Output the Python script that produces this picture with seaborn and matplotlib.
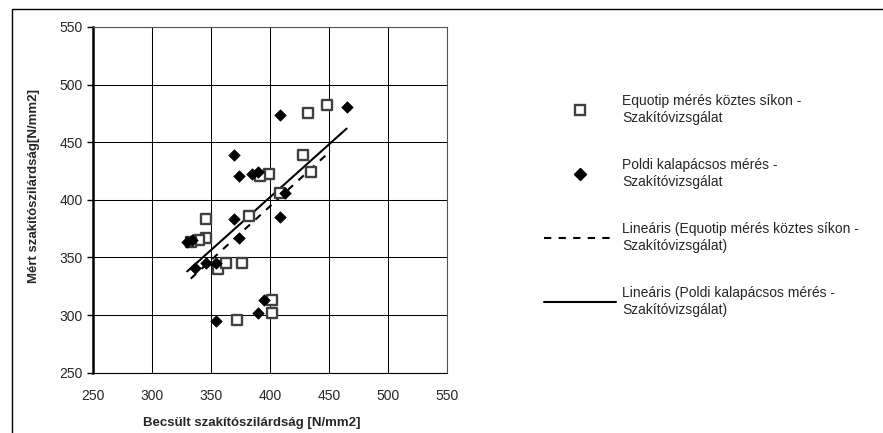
import numpy as np
import pandas as pd
import matplotlib.pyplot as plt
import seaborn as sns
from matplotlib.lines import Line2D
from matplotlib.patches import Rectangle

# Equotip mérés köztes síkon - Szakítóvizsgálat (squares)
equotip_x = [432, 448, 428, 435, 399, 392, 409, 346, 382, 346, 340, 333, 356, 363, 376, 402, 402, 372]
equotip_y = [475, 482, 439, 424, 422, 421, 406, 383, 386, 367, 365, 363, 340, 345, 345, 313, 302, 296]

# Poldi kalapácsos mérés - Szakítóvizsgálat (diamonds)
poldi_x = [409, 465, 370, 374, 385, 390, 413, 370, 409, 330, 334, 374, 337, 346, 354, 395, 390, 354]
poldi_y = [474, 481, 439, 421, 422, 424, 406, 383, 385, 363, 365, 367, 341, 345, 345, 313, 302, 295]

ticks = [250, 300, 350, 400, 450, 500, 550]

eq = pd.DataFrame({'x': equotip_x, 'y': equotip_y})
po = pd.DataFrame({'x': poldi_x, 'y': poldi_y})

sns.set_style('white')
plt.rcParams['font.family'] = ['Liberation Sans', 'DejaVu Sans']
plt.rcParams['font.size'] = 10

W, H = 883, 433
fig = plt.figure(figsize=(W / 100, H / 100), dpi=100)
ax = fig.add_axes([92.7 / W, 1 - 372.7 / H, (447 - 92.7) / W, (372.7 - 27) / H])

# trend lines
sns.regplot(data=eq, x='x', y='y', ax=ax, scatter=False, ci=None, truncate=True,
            line_kws=dict(color='black', lw=1.5, dashes=(3.5, 3.5), zorder=3))
sns.regplot(data=po, x='x', y='y', ax=ax, scatter=False, ci=None, truncate=True,
            line_kws=dict(color='black', lw=1.5, zorder=3))

# points
sns.scatterplot(data=eq, x='x', y='y', ax=ax, marker='s', s=42, facecolor='white',
                edgecolor='#404040', linewidth=1.7, zorder=4)
sns.scatterplot(data=po, x='x', y='y', ax=ax, marker='D', s=34, color='black',
                edgecolor='black', linewidth=0.5, zorder=5)

ax.set_xlim(250, 550)
ax.set_ylim(250, 550)
ax.set_xticks(ticks)
ax.set_yticks(ticks)
ax.grid(True, color='black', lw=0.75)
ax.set_axisbelow(True)
for s in ['top', 'right']:
    ax.spines[s].set_color('#555555')
    ax.spines[s].set_linewidth(0.8)
ax.spines['bottom'].set_color('black')
ax.spines['bottom'].set_linewidth(0.8)
ax.spines['left'].set_color('black')
ax.spines['left'].set_linewidth(1.8)
ax.tick_params(axis='y', direction='out', length=4, width=1, color='black', left=True,
               labelsize=10, pad=3)
ax.tick_params(axis='x', length=0, labelsize=10, pad=12)

ax.set_xlabel('Becsült szakítószilárdság [N/mm2]', fontweight='bold', fontsize=9.5,
              labelpad=10, x=0.45)
ax.set_ylabel('Mért szakítószilárdság[N/mm2]', fontweight='bold', fontsize=9.5,
              labelpad=14, y=0.54)

handles = [
    Line2D([], [], ls='none', marker='s', ms=6.5, mfc='white', mec='#404040', mew=1.7),
    Line2D([], [], ls='none', marker='D', ms=6, color='black'),
    Line2D([], [], color='black', lw=1.5, dashes=(3.5, 3.5)),
    Line2D([], [], color='black', lw=1.5),
]
labels = [
    'Equotip mérés köztes síkon -\nSzakítóvizsgálat',
    'Poldi kalapácsos mérés -\nSzakítóvizsgálat',
    'Lineáris (Equotip mérés köztes síkon -\nSzakítóvizsgálat)',
    'Lineáris (Poldi kalapácsos mérés -\nSzakítóvizsgálat)',
]
leg = ax.legend(handles, labels, loc='upper left', bbox_to_anchor=(544 / W, 1 - 94 / H),
                bbox_transform=fig.transFigure, frameon=False, fontsize=10,
                handlelength=5.2, handletextpad=0.45, labelspacing=2.35,
                borderpad=0, borderaxespad=0)
for t in leg.get_texts():
    t.set_linespacing(1.3)

# outer chart-area border (clipped at right and bottom like the source)
fig.patches.append(Rectangle((12 / W, -0.1), 1.2, 1 - 9 / H + 0.1, transform=fig.transFigure,
                             fill=False, ec='black', lw=1))

fig.savefig('out.png', dpi=100)
